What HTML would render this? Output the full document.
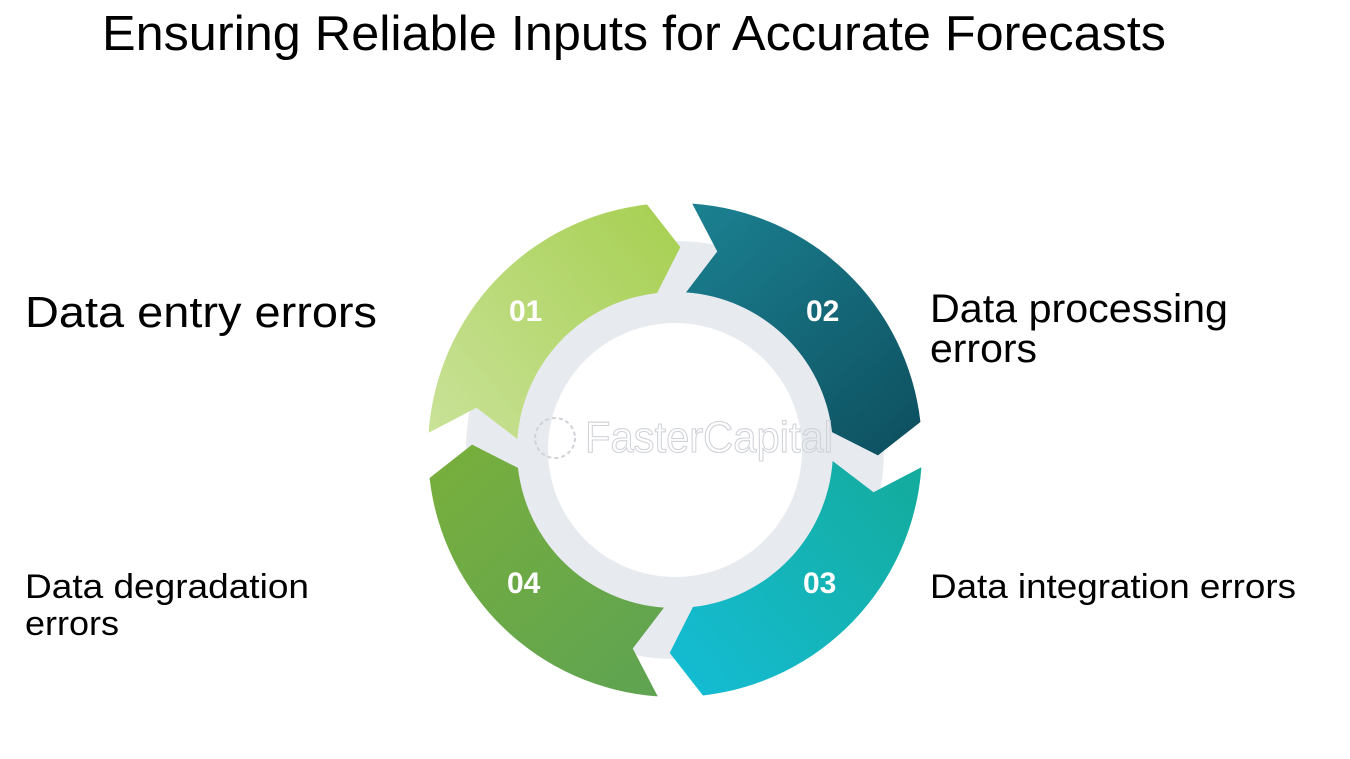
<!DOCTYPE html>
<html><head><meta charset="utf-8"><style>
html,body{margin:0;padding:0;background:#fff;}
svg{display:block;}
text{font-family:"Liberation Sans",Arial,sans-serif;fill:#000;}
</style></head><body>
<svg width="1350" height="759" viewBox="0 0 1350 759" xmlns="http://www.w3.org/2000/svg">
<defs>
<linearGradient id="g1" x1="1" y1="0" x2="0" y2="1"><stop offset="0" stop-color="#c9e298"/><stop offset="1" stop-color="#a6cf50"/></linearGradient>
<linearGradient id="g2" x1="1" y1="0" x2="0" y2="1"><stop offset="0" stop-color="#1b8191"/><stop offset="1" stop-color="#0d4e5e"/></linearGradient>
<linearGradient id="g3" x1="1" y1="0" x2="0" y2="1"><stop offset="0" stop-color="#14ab9c"/><stop offset="1" stop-color="#14bdd6"/></linearGradient>
<linearGradient id="g4" x1="1" y1="0" x2="0" y2="1"><stop offset="0" stop-color="#5ea352"/><stop offset="1" stop-color="#79af3c"/></linearGradient>
<path id="arr" d="M247,0 A247,247 0 0 1 45,242.9 L8.85,202.8 L28.8,155.4 A158,158 0 0 0 158,0 L201,28.3 Z"/>
</defs>
<rect width="1350" height="759" fill="#fff"/>
<text x="102" y="50" font-size="49" textLength="1064" lengthAdjust="spacingAndGlyphs">Ensuring Reliable Inputs for Accurate Forecasts</text>

<circle cx="675" cy="450" r="209" fill="#e7eaef"/>
<circle cx="675" cy="450" r="127" fill="#fff"/>
<g transform="translate(675,450)">
<use href="#arr" transform="rotate(184)" fill="url(#g1)"/>
<use href="#arr" transform="rotate(274)" fill="url(#g2)"/>
<use href="#arr" transform="rotate(4)" fill="url(#g3)"/>
<use href="#arr" transform="rotate(94)" fill="url(#g4)"/>
</g>
<text x="585" y="452" font-size="44" stroke="#cfd2d7" stroke-width="1.1" style="fill:none" textLength="248" lengthAdjust="spacingAndGlyphs">FasterCapital</text>
<circle cx="555" cy="438" r="20" fill="none" stroke="#cfd2d7" stroke-width="2" stroke-dasharray="4 3"/>

<g font-weight="bold" font-size="30">
<text x="509" y="321" style="fill:#fff">01</text>
<text x="806" y="321" style="fill:#fff">02</text>
<text x="803" y="593" style="fill:#fff">03</text>
<text x="507" y="593" style="fill:#fff">04</text>
</g>

<text x="25" y="327" font-size="44" textLength="352" lengthAdjust="spacingAndGlyphs">Data entry errors</text>
<text x="930" y="322" font-size="40" textLength="298" lengthAdjust="spacingAndGlyphs">Data processing</text>
<text x="930" y="362" font-size="40" textLength="107" lengthAdjust="spacingAndGlyphs">errors</text>
<text x="930" y="598" font-size="34" textLength="366" lengthAdjust="spacingAndGlyphs">Data integration errors</text>
<text x="25" y="598" font-size="34" textLength="284" lengthAdjust="spacingAndGlyphs">Data degradation</text>
<text x="25" y="635" font-size="34" textLength="94" lengthAdjust="spacingAndGlyphs">errors</text>
</svg>
</body></html>
